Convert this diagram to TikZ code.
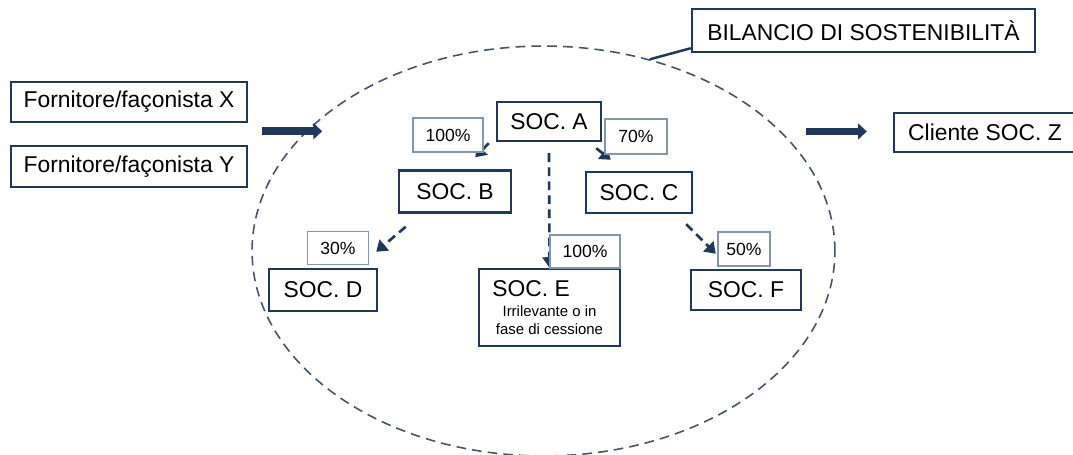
\documentclass[tikz,border=0pt]{standalone}
\usepackage{fontspec}
\setmainfont{Liberation Sans}
\usetikzlibrary{arrows.meta,shapes.geometric,calc}
\definecolor{navy}{HTML}{1F385C}
\definecolor{pctgray}{HTML}{8497B0}
\definecolor{rimgray}{HTML}{44546A}
\tikzset{
  socbox/.style={draw=navy,line width=1.4pt,fill=white,inner sep=0pt,font=\fontsize{13}{15}\selectfont},
  pctbox/.style={draw=pctgray,line width=0.7pt,fill=white,inner sep=0pt,font=\fontsize{10}{12}\selectfont},
  quota/.style={draw=navy,line width=1.5pt,dash pattern=on 5pt off 3pt,-{Triangle[width=8pt,length=6pt]}},
  flow/.style={draw=navy,line width=4.5pt,-{Triangle[width=9pt,length=5pt]}},
}
\newcommand{\subnote}{\fontsize{8.5}{10.2}\selectfont}
\begin{document}
\begin{tikzpicture}[x=0.02cm,y=-0.02cm]
      \useasboundingbox (0,0) rectangle (1073,455);
      \node[ellipse,draw=rimgray,line width=0.9pt,dash pattern=on 5.5pt off 3.5pt,minimum width=11.66cm,minimum height=8.2cm,inner sep=0pt] (perim) at (543.5,251) {};
      \node[socbox,minimum width=6.86cm,minimum height=0.86cm] (bil) at (863.5,30.5) {BILANCIO DI SOSTENIBILITÀ};
      \draw[navy,line width=1.4pt] ($(bil.south west)+(0,-5)$) -- (perim.61);

      \node[socbox,minimum width=4.72cm,minimum height=0.80cm] (fx) at (129,102) {Fornitore/façonista X};
      \node[socbox,minimum width=4.72cm,minimum height=0.82cm] (fy) at (129,166.5) {Fornitore/façonista Y};
      \node[socbox,minimum width=3.64cm,minimum height=0.78cm] (z) at (985,132.5) {Cliente SOC. Z};
      \draw[flow] ($(fx.east)!0.5!(fy.east)+(14,-3)$) -- ($(fx.east)!0.5!(fy.east)+(74,-3)$);
      \draw[flow] ($(z.west)+(-87,-1)$) -- ($(z.west)+(-26,-1)$);

      \node[socbox,minimum width=2.08cm,minimum height=0.78cm] (a) at (549,121.5) {SOC. A};
      \node[socbox,minimum width=2.24cm,minimum height=0.84cm] (b) at (455,191.5) {SOC. B};
      \node[socbox,minimum width=2.12cm,minimum height=0.82cm] (c) at (639,192.5) {SOC. C};
      \node[socbox,minimum width=2.16cm,minimum height=0.84cm] (d) at (323,290) {SOC. D};
      \node[socbox,font=\subnote,minimum width=2.82cm,minimum height=1.54cm,align=center] (e) at (549.5,307.5)
        {\makebox[65pt][l]{\fontsize{13}{15}\selectfont SOC. E}\\[1.2pt]Irrilevante o in\\fase di cessione};
      \node[socbox,minimum width=2.20cm,minimum height=0.80cm] (f) at (746,290) {SOC. F};

      \draw[quota] ($(a.south west)+(-7,1)$) -- ($(b.north east)+(-37,-12)$);
      \draw[quota] ($(a.south east)+(-6,6)$) -- ($(c.north west)+(26,-11)$);
      \draw[quota] ($(b.south west)+(8,13)$) -- ($(d.north east)+(-2,-16)$);
      \draw[quota] ($(c.south east)+(-7,10)$) -- ($(f.north west)+(26,-15)$);
      \draw[quota] ($(a.south)+(0,11)$) -- (e.north);

      \node[pctbox,minimum width=1.40cm,minimum height=0.68cm] (pab) at (448,135) {100\%};
      \node[pctbox,minimum width=1.24cm,minimum height=0.70cm] (pac) at (636,136.5) {70\%};
      \node[pctbox,minimum width=1.22cm,minimum height=0.66cm] (pbd) at (338,248) {30\%};
      \node[pctbox,minimum width=1.40cm,minimum height=0.66cm] (pae) at (585,251.5) {100\%};
      \node[pctbox,minimum width=1.04cm,minimum height=0.68cm] (pcf) at (744,249) {50\%};

      \end{tikzpicture}
\end{document}
